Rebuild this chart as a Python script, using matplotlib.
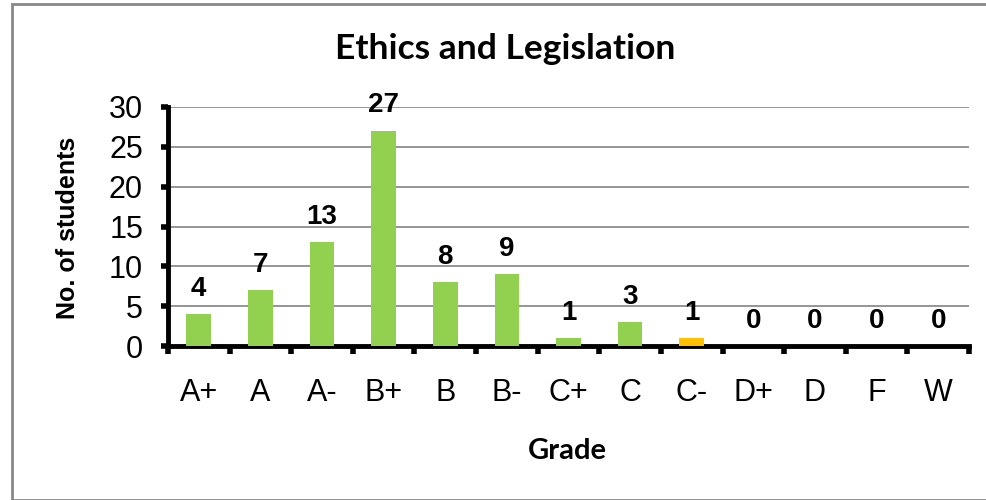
import matplotlib.pyplot as plt
import numpy as np
from matplotlib.patches import Rectangle

grades = ['A+', 'A', 'A-', 'B+', 'B', 'B-', 'C+', 'C', 'C-', 'D+', 'D', 'F', 'W']
students = [4, 7, 13, 27, 8, 9, 1, 3, 1, 0, 0, 0, 0]
colors = ['#92D050'] * 8 + ['#FFC000'] + ['#92D050'] * 4

fig = plt.figure(figsize=(9.86, 5.0), dpi=100)
# gray frame around the chart area
fig.patches.append(Rectangle((12 / 986, 0), 2, 1 - 4 / 500, transform=fig.transFigure,
                             fill=False, edgecolor='#888888', linewidth=2))
ax = fig.add_axes([168 / 986, 1 - 346 / 500, (969 - 168) / 986, (346 - 107) / 500])

x = np.arange(len(grades))
ax.bar(x, students, width=0.4, color=colors, zorder=3)
for xi, v in zip(x, students):
    ax.annotate(str(v), (xi, v), xytext=(0, 9), textcoords='offset points',
                ha='center', va='bottom', fontsize=20, fontweight='bold',
                family='Liberation Sans')

ax.set_xlim(-0.5, len(grades) - 0.5)
ax.set_ylim(0, 30)
ax.set_yticks(range(0, 31, 5))
ax.yaxis.grid(True, color='#8c8c8c', linewidth=1.3, zorder=0)
ax.set_axisbelow(True)

ax.set_xticks(x)
ax.set_xticklabels(grades)
ax.set_xticks(np.arange(-0.5, len(grades), 1), minor=True)
ax.tick_params(axis='x', which='major', length=0, pad=23)
ax.tick_params(axis='x', which='minor', length=6, width=4, direction='out')
ax.tick_params(axis='y', length=5, width=4, direction='out', pad=13)
for lab in ax.get_xticklabels() + ax.get_yticklabels():
    lab.set_family('Liberation Sans')
    lab.set_fontsize(22)

for s in ['top', 'right']:
    ax.spines[s].set_visible(False)
for s in ['left', 'bottom']:
    ax.spines[s].set_linewidth(3.5)

fig.text(505 / 986, 1 - 49 / 500, 'Ethics and Legislation', fontsize=25.5,
         fontweight='bold', family='Lato', ha='center', va='center')
fig.text(567 / 986, 1 - 451 / 500, 'Grade', fontsize=21, fontweight='bold',
         family='Lato', ha='center', va='center')
fig.text(68 / 986, 1 - 228 / 500, 'No. of students', fontsize=18, fontweight='bold',
         family='Liberation Sans', ha='center', va='center', rotation=90)

fig.savefig('out.png', dpi=100)
